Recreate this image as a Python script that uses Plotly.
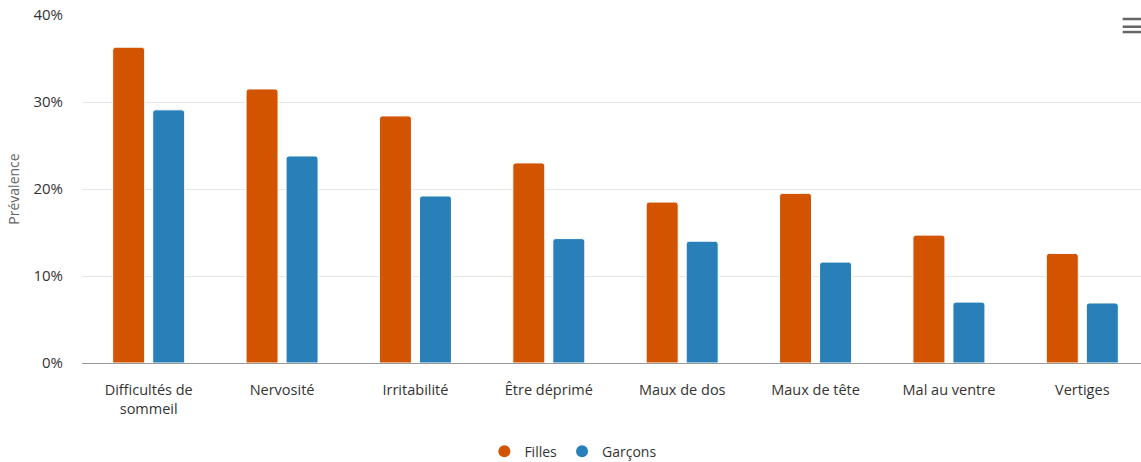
import plotly.graph_objects as go

categories = ["Difficultés de<br>sommeil", "Nervosité", "Irritabilité", "Être déprimé",
              "Maux de dos", "Maux de tête", "Mal au ventre", "Vertiges"]
filles = [36.3, 31.5, 28.4, 23.0, 18.5, 19.5, 14.7, 12.6]
garcons = [29.1, 23.8, 19.2, 14.3, 14.0, 11.6, 7.0, 6.9]
series_names = ["Filles", "Garçons"]
series_colors = ["#d35400", "#2980b9"]
y_ticks = [0, 10, 20, 30, 40]
y_tick_labels = ["0%", "10%", "20%", "30%", "40%"]

fig = go.Figure()
for name, vals, col in zip(series_names, [filles, garcons], series_colors):
    fig.add_trace(go.Bar(name=name, x=categories, y=vals, showlegend=False,
                         marker=dict(color=col, line=dict(color="#ffffff", width=1))))
for name, col in zip(series_names, series_colors):
    fig.add_trace(go.Scatter(name=name, x=[None], y=[None], mode="markers",
                             marker=dict(color=col, size=12, symbol="circle")))

fig.update_layout(
    width=1141, height=462,
    margin=dict(l=82, r=0, t=15, b=99, autoexpand=False),
    paper_bgcolor="white", plot_bgcolor="white",
    font=dict(family="Open Sans, Noto Sans, sans-serif", size=14, color="#333333"),
    barmode="group", bargap=0.40, bargroupgap=0.2, barcornerradius=3,
    showlegend=True,
    legend=dict(orientation="h", x=0.464, xanchor="center", y=-0.255, yanchor="middle",
                font=dict(size=14, color="#333333"), itemsizing="constant", itemwidth=30),
    xaxis=dict(showgrid=False, showline=True, linecolor="#999999", linewidth=1,
               range=[-0.5, 7.44], ticks="", ticklabelstandoff=14, automargin=False,
               tickfont=dict(size=14.5, color="#333333"), fixedrange=True),
    yaxis=dict(range=[0, 40], tickvals=y_ticks, ticktext=y_tick_labels, showgrid=True,
               gridcolor="#e6e6e6", zeroline=False, showline=False, automargin=False,
               tickfont=dict(size=15, color="#333333"), ticklabelstandoff=18,
               title=dict(text="Prévalence", font=dict(size=14, color="#666666"), standoff=10)),
)

for yy in [0.9885, 0.9663, 0.951]:
    fig.add_shape(type="line", xref="paper", yref="paper",
                  x0=0.9827, x1=1.0, y0=yy, y1=yy,
                  line=dict(color="#666666", width=2.5))

fig.write_html("out.html", config={"displayModeBar": False})
